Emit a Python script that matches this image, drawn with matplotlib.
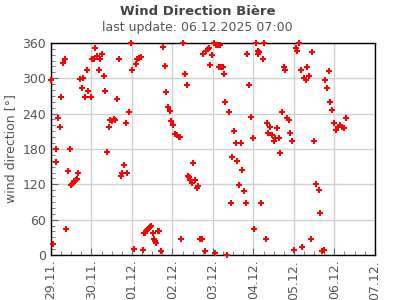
import matplotlib
matplotlib.use("Agg")
import matplotlib.pyplot as plt
import matplotlib.dates as mdates
from matplotlib.ticker import MultipleLocator
import pandas as pd

# hours since 29.11.2025 00:00
hours = [0.0, 1.4, 2.8, 3.1, 4.3, 5.5, 6.1, 7.3, 8.5, 9.1, 10.3, 11.4, 12.0, 12.6,
         13.2, 13.8, 14.4, 15.0, 15.6, 16.2, 17.4, 18.5, 19.1, 20.3, 21.5, 22.1,
         23.5, 24.5, 25.3, 26.3, 27.4, 28.6, 29.2, 30.4, 31.6, 32.2, 33.4, 34.5,
         35.1, 36.3, 37.5, 38.1, 39.3, 40.3, 41.7, 42.1, 43.4, 44.6, 45.2, 46.4,
         47.6, 48.2, 49.4, 50.5, 51.1, 52.3, 53.5, 54.7, 55.3, 55.9, 56.5, 57.1,
         57.7, 58.3, 58.8, 59.4, 60.6, 61.2, 61.8, 62.4, 63.6, 64.2, 65.2, 66.5,
         67.7, 68.3, 69.5, 70.7, 71.3, 72.5, 73.7, 74.8, 76.0, 76.6, 77.2, 78.4,
         79.6, 80.8, 81.4, 81.9, 82.5, 83.7, 84.3, 85.5, 86.7, 87.3, 88.5, 89.7,
         90.3, 91.4, 92.0, 93.2, 93.8, 94.4, 95.6, 96.8, 97.4, 98.0, 99.1, 99.7,
         100.3, 100.9, 102.1, 102.7, 103.3, 104.5, 105.7, 106.8, 107.4, 108.6,
         109.8, 110.4, 111.6, 112.8, 113.4, 114.5, 115.7, 116.3, 117.5, 118.7,
         119.9, 120.5, 121.7, 122.5, 122.8, 123.4, 124.6, 125.8, 126.4, 127.2,
         128.0, 128.6, 129.8, 131.0, 132.2, 132.8, 134.0, 135.2, 135.8, 137.0,
         138.2, 138.8, 140.0, 141.2, 141.8, 143.0, 144.2, 145.4, 146.0, 147.2,
         148.4, 149.0, 150.2, 151.4, 152.0, 153.2, 154.4, 155.0, 156.2, 157.4,
         158.6, 159.2, 160.4, 161.6, 162.2, 163.4, 164.6, 165.2, 166.4, 167.6,
         168.8, 170.0, 171.2, 172.4, 173.6, 174.8]

direction = [297, 18, 180, 158, 232, 218, 269, 326, 332, 44, 143, 180, 118, 121,
             123, 125, 126, 128, 129, 139, 298, 283, 300, 269, 314, 278,
             269, 332, 332, 351, 337, 314, 332, 341, 303, 278, 174, 217,
             229, 228, 231, 229, 264, 332, 134, 139, 152, 224, 139, 242,
             360, 314, 10, 325, 332, 334, 336, 8, 37, 38, 40, 42,
             44, 45, 47, 49, 38, 27, 24, 21, 40, 40, 6, 353,
             320, 276, 251, 244, 227, 220, 205, 203, 201, 201, 27, 360,
             307, 288, 134, 132, 128, 122, 156, 127, 113, 117, 27, 27,
             341, 6, 346, 349, 351, 322, 339, 360, 3, 356, 356, 319,
             356, 319, 319, 308, 259, 0, 242, 89, 166, 210,
             190, 159, 118, 190, 145, 108, 89, 341, 288, 235,
             198, 44, 360, 346, 341, 344, 89, 332, 360, 27,
             224, 207, 218, 203, 193, 198, 215, 198, 173, 242,
             319, 314, 232, 229, 207, 193, 8, 351, 346, 360,
             314, 13, 300, 297, 319, 303, 27, 344, 193, 120,
             110, 72, 6, 8, 297, 283, 312, 259, 246, 224,
             213, 218, 220, 217, 215, 232]

start = pd.Timestamp("2025-11-29 00:00")
times = start + pd.to_timedelta(hours, unit="h")

fig = plt.figure(figsize=(3.95, 3.0), dpi=100)
ax = fig.add_axes([0.129, 0.150, 0.820, 0.707])

ax.plot(times, direction, linestyle="none", marker="P", markersize=4.2,
        color="#ff0000", markeredgewidth=0, clip_on=False, zorder=3)

ax.set_xlim(pd.Timestamp("2025-11-29"), pd.Timestamp("2025-12-07"))
ax.set_ylim(0, 360)
ax.xaxis.set_major_locator(mdates.DayLocator())
ax.xaxis.set_minor_locator(mdates.HourLocator(byhour=[6, 12, 18]))
ax.xaxis.set_major_formatter(mdates.DateFormatter("%d.%m."))
ax.yaxis.set_major_locator(MultipleLocator(60))
ax.yaxis.set_minor_locator(MultipleLocator(10))

ax.grid(True, which="major", color="#d0d0d0", linewidth=1.0)
ax.set_axisbelow(True)
for s in ax.spines.values():
    s.set_color("black")
    s.set_linewidth(1.0)

ax.tick_params(which="both", direction="in", colors="#666666", labelcolor="#555555",
               labelsize=9)
ax.tick_params(which="major", length=5)
ax.tick_params(which="minor", length=3)
plt.setp(ax.get_xticklabels(), rotation=90)

ax.set_ylabel("wind direction [°]", color="#555555", fontsize=9)
fig.text(0.5, 0.963, "Wind Direction Bière", ha="center", va="center",
         fontsize=9.5, fontweight="bold", color="#444444")
fig.text(0.5, 0.908, "last update: 06.12.2025 07:00", ha="center", va="center",
         fontsize=9, color="#555555")

fig.savefig("out.png", dpi=100)
